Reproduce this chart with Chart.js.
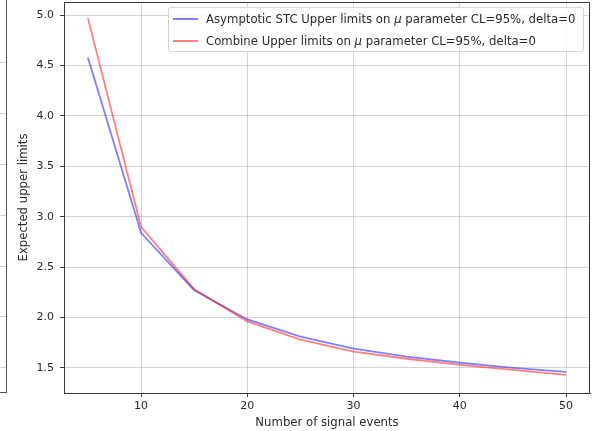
<!DOCTYPE html>
<html>
<head>
<meta charset="utf-8">
<script src="https://cdn.jsdelivr.net/npm/chart.js@4.4.0/dist/chart.umd.min.js"></script>
<style>
  html, body { margin: 0; padding: 0; background: #fff; }
  #wrap { position: relative; width: 592px; height: 431px; overflow: hidden; }
  #graphCanvas { position: absolute; left: 0; top: 0; }
  /* piece of the neighbouring subplot, cut off at the left edge */
  #prev { position: absolute; left: 0; top: 0; width: 6px; height: 392px;
          border-right: 1px solid #555; border-bottom: 1px solid #555; }
  #prev .g { position: absolute; left: 0; width: 6px; height: 1px; background: #d4d4d4; }
  #legend { position: absolute; left: 168px; top: 7px; width: 416px; height: 45px;
            border: 1px solid #d6d6d6; border-radius: 3px; background: rgba(255,255,255,0.85);
            font: 11.7px "DejaVu Sans", sans-serif; color: #2a2a2a; box-sizing: border-box; }
  #legend .item { position: absolute; left: 4px; height: 14px; line-height: 14px; white-space: nowrap; }
  #legend .swatch { display: inline-block; width: 25px; height: 2px; vertical-align: middle;
                    margin-right: 8px; position: relative; top: -1px; }
</style>
</head>
<body>
<div id="wrap">
  <canvas id="graphCanvas" width="592" height="431"></canvas>
  <div id="prev"></div>
  <div id="legend"></div>
</div>
<script>
// Dades del gràfic
const signalEvents = [5, 10, 15, 20, 25, 30, 35, 40, 45, 50];
const stcLimits = [4.58, 2.84, 2.27, 1.98, 1.81, 1.69, 1.61, 1.55, 1.50, 1.46];
const combineLimits = [4.97, 2.90, 2.28, 1.96, 1.78, 1.66, 1.59, 1.53, 1.48, 1.43];
const xTicks = [10, 20, 30, 40, 50];
const yTicks = [1.5, 2.0, 2.5, 3.0, 3.5, 4.0, 4.5, 5.0];
const seriesLabels = [
    'Asymptotic STC Upper limits on <i>μ</i> parameter CL=95%, delta=0',
    'Combine Upper limits on <i>μ</i> parameter CL=95%, delta=0'
];
const seriesColors = ['rgba(0, 0, 255, 0.5)', 'rgba(255, 0, 0, 0.5)'];

const tickFont = { family: 'DejaVu Sans', size: 11 };
const titleFont = { family: 'DejaVu Sans', size: 11.7 };
const textColor = '#2a2a2a';
const gridColor = 'rgba(0, 0, 0, 0.17)';
const spineColor = '#3a3a3a';

// marc superior i dret (estil matplotlib)
const boxPlugin = {
    id: 'box',
    afterDraw(chart) {
        const { ctx, chartArea: a } = chart;
        ctx.save();
        ctx.strokeStyle = spineColor;
        ctx.lineWidth = 1;
        ctx.strokeRect(a.left + 0.5, a.top + 0.5, a.right - a.left - 1, a.bottom - a.top);
        ctx.restore();
    }
};

function toPoints(ys) {
    return signalEvents.map((x, i) => ({ x: x, y: ys[i] }));
}

const ctx = document.getElementById('graphCanvas').getContext('2d');
new Chart(ctx, {
    type: 'line',
    data: {
        datasets: [
            { label: 'STC', data: toPoints(stcLimits), borderColor: seriesColors[0], borderWidth: 1.8, order: 1 },
            { label: 'Combine', data: toPoints(combineLimits), borderColor: seriesColors[1], borderWidth: 1.8, order: 0 }
        ]
    },
    options: {
        responsive: false,
        animation: false,
        devicePixelRatio: 1,
        layout: { padding: { top: 2, right: 2, left: 0, bottom: 0 } },
        elements: { point: { radius: 0 }, line: { tension: 0 } },
        plugins: { legend: { display: false }, tooltip: { enabled: false } },
        scales: {
            x: {
                type: 'linear',
                min: 2.75,
                max: 52.25,
                afterBuildTicks: (axis) => { axis.ticks = xTicks.map(v => ({ value: v })); },
                afterFit: (s) => { s.height = 38; s.paddingLeft = 0; s.paddingRight = 0; },
                ticks: { font: tickFont, color: textColor, padding: 3, maxRotation: 0, autoSkip: false },
                grid: { color: gridColor, tickColor: spineColor, tickLength: 4 },
                border: { color: spineColor, width: 1 },
                title: { display: true, text: 'Number of signal events', font: titleFont, color: textColor,
                         padding: { top: 0, bottom: 1 } }
            },
            y: {
                type: 'linear',
                min: 1.25,
                max: 5.13,
                afterBuildTicks: (axis) => { axis.ticks = yTicks.map(v => ({ value: v })); },
                afterFit: (s) => { s.width = 64; s.paddingTop = 0; s.paddingBottom = 0; },
                ticks: { font: tickFont, color: textColor, padding: 6, callback: v => v.toFixed(1) },
                grid: { color: gridColor, tickColor: spineColor, tickLength: 4 },
                border: { color: spineColor, width: 1 },
                title: { display: true, text: 'Expected upper limits', font: titleFont, color: textColor,
                         padding: { top: 17, bottom: 0 } }
            }
        }
    },
    plugins: [boxPlugin]
});

// llegenda dins del gràfic
const legend = document.getElementById('legend');
legend.innerHTML = seriesLabels.map((label, i) => `
    <div class="item" style="top:${4 + i * 22}px">
        <span class="swatch" style="background:${seriesColors[i]}"></span>${label}
    </div>`).join('');

// línies de la graella del subgràfic veí
const prev = document.getElementById('prev');
[62, 113, 164, 215, 266, 316, 367].forEach(y => {
    const g = document.createElement('div');
    g.className = 'g';
    g.style.top = y + 'px';
    prev.appendChild(g);
});
</script>
</body>
</html>
